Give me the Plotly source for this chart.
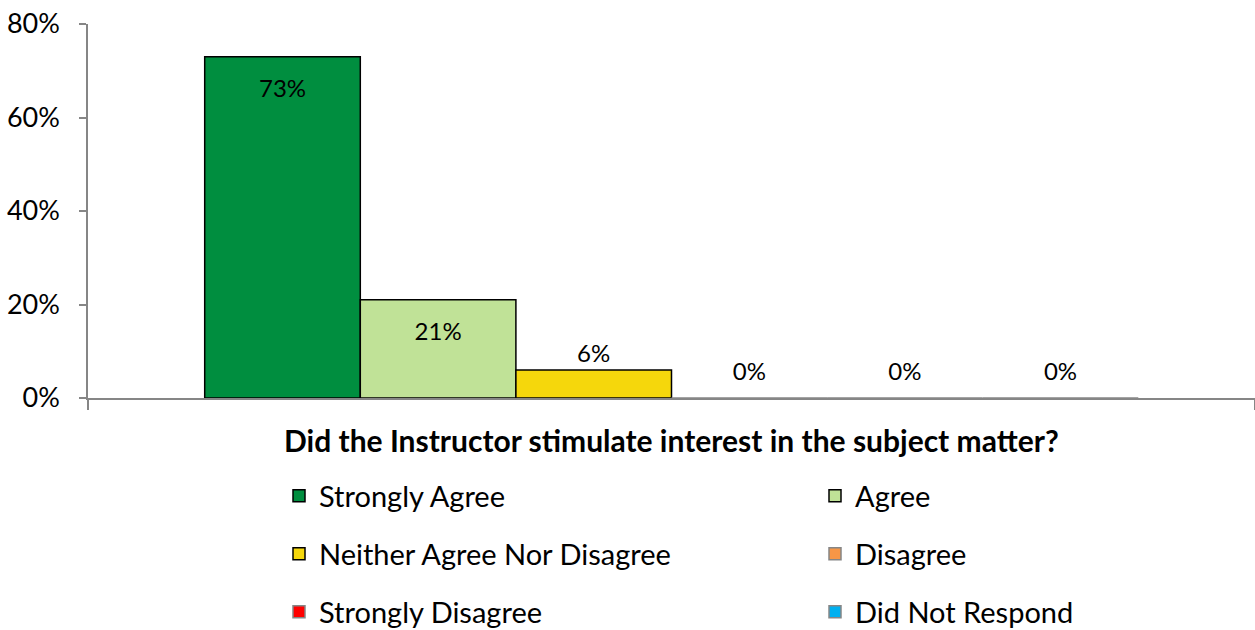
import plotly.graph_objects as go

categories = ["Did the Instructor stimulate interest in the subject matter?"]
series_names = ["Strongly Agree", "Agree", "Neither Agree Nor Disagree",
                "Disagree", "Strongly Disagree", "Did Not Respond"]
series_values = [0.73, 0.21, 0.06, 0.0, 0.0, 0.0]
series_colors = ["#008E3F", "#C0E297", "#F5D70C", "#F79646", "#FF0000", "#00B0F0"]
label_positions = ["inside", "inside", "outside", "outside", "outside", "outside"]
legend_ids = ["legend", "legend", "legend2", "legend2", "legend3", "legend3"]

FONT = "Lato"
AXIS = "#868686"
W, H = 1255, 630
PT, PB = 24, 398  # plot area top / bottom in px

fig = go.Figure()
for name, val, col, pos, lg in zip(series_names, series_values, series_colors,
                                   label_positions, legend_ids):
    label = f"{val:.0%}"
    fsize = 24
    if pos == "inside":
        label = "<span style='font-size:6px'> </span><br>" + label
    elif val == 0:
        label = f"<span style='font-size:24px'>{label}</span><br> "
        fsize = 10
    fig.add_trace(go.Bar(
        x=["Q"], y=[val], name=name,
        marker=dict(color=col, line=dict(color="black" if val > 0 else AXIS, width=1.5)),
        text=[label], textposition=pos,
        insidetextanchor="end",
        textfont=dict(family=FONT, size=fsize, color="black"),
        cliponaxis=False,
        legend=lg,
    ))

def legend_cfg(py):
    return dict(orientation="h", xref="container", yref="container",
                x=279 / W, y=1 - py / H, xanchor="left", yanchor="middle",
                entrywidth=491, entrywidthmode="pixels",
                font=dict(family=FONT, size=29, color="black"),
                bgcolor="rgba(0,0,0,0)")

fig.update_layout(
    width=W, height=H,
    margin=dict(l=88, r=0, t=PT, b=H - PB),
    paper_bgcolor="white", plot_bgcolor="white",
    barmode="group", bargap=0.2, bargroupgap=0,
    font=dict(family=FONT, color="black"),
    showlegend=True,
    legend=legend_cfg(496),
    legend2=legend_cfg(554),
    legend3=legend_cfg(612),
    annotations=[dict(text="<b>" + categories[0] + "</b>", xref="paper", yref="paper",
                      x=0.5, y=(PB - 440) / (PB - PT), xanchor="center", yanchor="middle",
                      showarrow=False, font=dict(family=FONT, size=30, color="black"))],
)
fig.update_yaxes(range=[0, 0.8], dtick=0.2, tickformat=".0%", showgrid=False,
                 showline=True, linecolor=AXIS, linewidth=1.5,
                 ticks="outside", ticklen=7, tickcolor=AXIS, tickwidth=1.5,
                 ticklabelstandoff=14, zeroline=False,
                 tickfont=dict(family=FONT, size=27, color="black"))
fig.update_xaxes(range=[-0.5, 0.5], showticklabels=False, showgrid=False,
                 showline=True, linecolor=AXIS, linewidth=1.5,
                 ticks="outside", tickson="boundaries", ticklen=10,
                 tickcolor=AXIS, tickwidth=1.5)

fig.write_html("out.html")
